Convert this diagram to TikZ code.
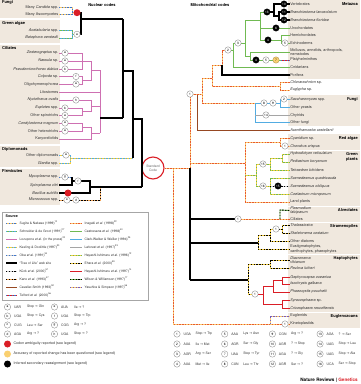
\documentclass[tikz,border=0pt]{standalone}
\usepackage{fontspec}
\setmainfont{TeX Gyre Heros}
\newfontfamily\arrfont{DejaVu Sans}
\newcommand{\toarr}{{\arrfont\char"2192}}
\usetikzlibrary{positioning}

\definecolor{beige}{RGB}{240,232,222}
\definecolor{pinkc}{RGB}{206,112,178}
\definecolor{redc}{RGB}{218,30,38}
\definecolor{ydot}{RGB}{250,208,112}
\definecolor{ornb}{RGB}{250,202,110}
\definecolor{ornd}{RGB}{232,88,48}
\definecolor{grnc}{RGB}{112,186,82}
\definecolor{bluc}{RGB}{82,172,226}
\definecolor{blud}{RGB}{62,118,204}
\definecolor{gryc}{RGB}{165,165,165}
\definecolor{brnc}{RGB}{150,72,34}
\definecolor{ylwc}{RGB}{244,206,62}
\definecolor{purc}{RGB}{118,92,186}

\tikzset{
  br/.style={line width=0.9pt},
  duo/.style 2 args={br, draw=#1, postaction={draw=#2, dash pattern=on 1.4pt off 1.4pt}},
  sugita/.style={duo={ornb}{blud}},
  schneider/.style={duo={grnc}{bluc}},
  lozupone/.style={br, draw=pinkc},
  keeling/.style={duo={ylwc}{bluc}},
  oba/.style={duo={gryc!60}{blud}},
  tol/.style={line width=1.1pt, draw=black},
  kuck/.style={duo={gryc!50}{black}},
  kano/.style={duo={ornb!70!ornd}{black}},
  cavsmith/.style={br, draw=brnc},
  telford/.style={duo={redc}{blud}},
  inagaki/.style={duo={ornb}{ornd}},
  castresana/.style={br, draw=grnc},
  clarkw/.style={br, draw=bluc},
  laforest/.style={br, draw=gryc},
  hayashia/.style={duo={ylwc}{grnc}},
  ehara/.style={duo={ylwc}{black}},
  hayashib/.style={br, draw=redc},
  wilson/.style={duo={grnc}{black}},
  yasuhira/.style={duo={ornb}{purc}},
  lbl/.style={font=\fontsize{3.8}{4.3}\selectfont, text=black!80, inner sep=0.6pt},
  lbr/.style={lbl, anchor=west},
  lbn/.style={lbl, anchor=east},
  grp/.style={font=\fontsize{4}{4.6}\selectfont\bfseries, inner sep=0.5pt},
  lg/.style={font=\fontsize{3.3}{3.8}\selectfont, text=black!80, inner sep=0.4pt, anchor=west},
  cod/.style={circle, draw=black!45, fill=white, line width=0.35pt, inner sep=0pt,
    minimum size=6.4pt, font=\fontsize{3.2}{3.2}\selectfont},
  codk/.style={cod, draw=black, fill=black, text=white},
  cody/.style={cod, draw=ydot!70!black, fill=ydot},
  bigdot/.style={circle, inner sep=0pt, minimum size=7pt, fill=#1}
}

\begin{document}
\begin{tikzpicture}[x=1pt,y=-1pt]
\useasboundingbox (0,0) rectangle (360,384);

% group panels
\fill[beige] (0,0) rectangle (60,17.5);
\fill[beige] (0,19.5) rectangle (60,43);
\fill[beige] (0,45) rectangle (60,144);
\fill[beige] (0,146) rectangle (60,166.5);
\fill[beige] (0,168.5) rectangle (60,205);
\fill[beige] (288,0) rectangle (360,78.5);
\fill[beige] (288,95) rectangle (360,126);
\fill[beige] (288,134) rectangle (360,149.5);
\fill[beige] (288,150.5) rectangle (360,206);
\fill[beige] (288,207) rectangle (360,222);
\fill[beige] (288,223) rectangle (360,254);
\fill[beige] (288,255) rectangle (360,312);
\fill[beige] (288,313) rectangle (360,328);

\node[grp] (hnuc) at (102,5) {Nuclear codes};
\node[grp] (hmit) at (210,5) {Mitochondrial codes};

% nuclear taxa
\node[grp, anchor=west] (nfun) at (1.5,2.8) {Fungi};
\node[lbn] (cand) at (59,7.6) {Many \textit{Candida} spp.};
\node[lbn] (asco) at (59,14.8) {Many Ascomycetes};
\node[grp, anchor=west] (ngre) at (1.5,23.5) {Green algae};
\node[lbn] (acet) at (59,30.5) {\textit{Acetabularia} spp.};
\node[lbn] (bato) at (59,38) {\textit{Batophora oerstedii}};
\node[grp, anchor=west] (ncil) at (1.5,48.5) {Ciliates};
\node[lbn] (zost) at (59,53) {\textit{Zosterograptus} sp.};
\node[lbn] (nass) at (59,61) {\textit{Nassula} sp.};
\node[lbn] (pseu) at (59,69) {\textit{Pseudomicrothorax dubius}};
\node[lbn] (colp) at (59,76.5) {\textit{Colpoda} sp.};
\node[lbn] (olig) at (59,84) {Oligohymenophorea};
\node[lbn] (lito) at (59,92) {Litostomes};
\node[lbn] (nyct) at (59,100) {\textit{Nyctotherus ovalis}};
\node[lbn] (eupl) at (59,108) {\textit{Euplotes} spp.};
\node[lbn] (ospi) at (59,115.5) {Other spirotrichs};
\node[lbn] (cond) at (59,123) {\textit{Condylostoma magnum}};
\node[lbn] (ohet) at (59,131) {Other heterotrichs};
\node[lbn] (kary) at (59,139) {Karyorelictids};
\node[grp, anchor=west] (ndip) at (1.5,149) {Diplomonads};
\node[lbn] (odip) at (59,155) {Other diplomonads};
\node[lbn] (giar) at (59,163) {\textit{Giardia} spp.};
\node[grp, anchor=west] (nfir) at (1.5,171) {Firmicutes};
\node[lbn] (myco) at (59,177) {\textit{Mycoplasma} spp.};
\node[lbn] (spir) at (59,185) {\textit{Spiroplasma citri}};
\node[lbn] (baci) at (59,193) {\textit{Bacillus subtilis}};
\node[lbn] (micr) at (59,200) {\textit{Micrococcus} spp.};

\node[circle, draw=redc, line width=1.1pt, minimum size=22pt, inner sep=0pt, align=center,
  font=\fontsize{3.3}{3.9}\selectfont, text=black!60] (std) at (153,168) {Standard\\Code};

% nuclear tree
\draw[sugita] (cand.east) -- (72,7.6) -- (72,14.8) -- (asco.east);
\draw[sugita] (72,12.7) -- (77,12.7);
\draw[schneider] (acet.east) -- (72,30.5) -- (72,38) -- (bato.east);
\draw[schneider] (72,34.3) -- (77,34.3);
\draw[tol] (77,12.7) -- (81,12.7) -- (81,34.3) -- (77,34.3);
\draw[tol] (81,19) -- (123,19);
\draw[lozupone] (zost.east) -- (82,53) -- (82,69) -- (pseu.east);
\draw[lozupone] (nass.east) -- (91,61) -- (91,80) -- (82,80);
\draw[lozupone] (colp.east) -- (82,76.5) -- (82,84) -- (olig.east);
\draw[lozupone] (91,70) -- (100,70);
\draw[lozupone] (eupl.east) -- (82,108) -- (82,115.5) -- (ospi.east);
\draw[lozupone] (82,111.8) -- (91,111.8) -- (91,100) -- (nyct.east);
\draw[lozupone] (91,106) -- (100,106);
\draw[lozupone] (cond.east) -- (82,123) -- (82,131) -- (ohet.east);
\draw[lozupone] (82,127) -- (91,127) -- (91,139) -- (kary.east);
\draw[lozupone] (91,133) -- (100,133);
\draw[lozupone] (lito.east) -- (100,92);
\draw[lozupone] (100,70) -- (100,133);
\draw[tol] (100,118) -- (123,118);
\draw[tol] (123,19) -- (123,118);
\draw[tol] (123,71) -- (133,71) -- (133,158);
\draw[tol] (133,119) -- (142,119) -- (142,187);
\draw[tol] (142,168) -- (std.west);
\draw[keeling] (odip.east) -- (70,155) -- (70,163) -- (giar.east);
\draw[keeling] (70,158) -- (133,158);
\draw[oba] (myco.east) -- (72,177);
\draw[tol] (72,177) -- (72,185) -- (spir.east);
\draw[tol] (72,181) -- (90,181) -- (90,193) -- (baci.east);
\draw[tol] (90,187) -- (142,187);
\draw[kano] (micr.east) -- (100,200) -- (100,187);

\node[bigdot=redc] (rfun) at (77,12.7) {};
\node[cod] (cga) at (77,34.3) {a};
\node[cod] (czos) at (65,53) {a};
\node[cod] (cnas) at (65,61) {a};
\node[cod] (cpse) at (65,69) {b};
\node[cod] (ccol) at (76,76.5) {f};
\node[cod] (colg) at (76,84) {a};
\node[cod] (cnyc) at (76,100) {h};
\node[cod] (ceup) at (65,108) {b};
\node[cod] (cosp) at (65,115.5) {a};
\node[cod] (ccon) at (65,123) {a};
\node[cod] (cohe) at (65,131) {a};
\node[cod] (cdip) at (66,155) {a};
\node[cod] (cmyc) at (65,177) {g};
\node[cod] (cfir) at (78,181) {f};
\node[bigdot=redc] (rbac) at (68,193) {};
\node[cod] (cmie) at (67,200) {e};
\node[cod] (cmid) at (76,200) {d};

% mitochondrial taxa
\node[lbr] (vert) at (289.5,4) {Vertebrates};
\node[lbr] (blan) at (289.5,12) {\textit{Branchiostoma lanceolatum}};
\node[lbr] (bflo) at (289.5,20) {\textit{Branchiostoma floridae}};
\node[lbr] (uroc) at (289.5,28) {Urochordates};
\node[lbr] (hemi) at (289.5,35) {Hemichordates};
\node[lbr] (echi) at (289.5,43) {Echinoderms};
\node[lbr, align=left] (moll) at (289.5,52) {Molluscs, annelids, arthropods,\\nematodes};
\node[lbr] (plat) at (289.5,60) {Platyhelminthes};
\node[lbr] (cnid) at (289.5,67) {Cnidarians};
\node[lbr] (pori) at (289.5,75) {Porifera};
\node[lbr] (chlo) at (289.5,82) {\textit{Chlorarachnion} sp.};
\node[lbr] (eugy) at (289.5,90) {\textit{Euglypha} sp.};
\node[lbr] (sacc) at (289.5,99) {\textit{Saccharomyces} spp.};
\node[lbr] (oyea) at (289.5,107) {Other yeasts};
\node[lbr] (chyt) at (289.5,115) {Chytrids};
\node[lbr] (ofun) at (289.5,122) {Other fungi};
\node[lbr] (acan) at (289.5,130) {\textit{Acanthamoeba castellanii}};
\node[lbr] (cyan) at (289.5,138) {\textit{Cyanidium} sp.};
\node[lbr] (chon) at (289.5,146) {\textit{Chondrus crispus}};
\node[lbr] (hydr) at (289.5,154) {\textit{Hydrodictyon reticulatum}};
\node[lbr] (pedi) at (289.5,162) {\textit{Pediastrum boryanum}};
\node[lbr] (tetr) at (289.5,170) {\textit{Tetraedron bitridens}};
\node[lbr] (squa) at (289.5,178) {\textit{Scenedesmus quadricauda}};
\node[lbr] (sobl) at (289.5,186) {\textit{Scenedesmus obliquus}};
\node[lbr] (coel) at (289.5,194) {\textit{Coelastrum microporum}};
\node[lbr] (land) at (289.5,202) {Land plants};
\node[lbr, align=left] (plas) at (289.5,210.5) {\textit{Plasmodium}\\\textit{falciparum}};
\node[lbr] (cili) at (289.5,219) {Ciliates};
\node[lbr] (thal) at (289.5,225) {\textit{Thalassiosira}};
\node[lbr] (skel) at (289.5,233) {\textit{Skeletonema costatum}};
\node[lbr] (odia) at (289.5,241) {Other diatoms};
\node[lbr, align=left] (eust) at (289.5,249) {Eustigmatophytes,\\xanthophytes, phaeophytes};
\node[lbr, align=left] (diac) at (289.5,260) {\textit{Diacronema}\\\textit{vlkianum}};
\node[lbr] (pavl) at (289.5,268) {\textit{Pavlova lutheri}};
\node[lbr] (geph) at (289.5,277) {\textit{Gephyrocapsa oceanica}};
\node[lbr] (isoc) at (289.5,284) {\textit{Isochrysis galbana}};
\node[lbr] (phae) at (289.5,292) {\textit{Phaeocystis pouchetii}};
\node[lbr] (syra) at (289.5,300) {\textit{Syracosphaera} sp.};
\node[lbr] (cric) at (289.5,308) {\textit{Cricosphaera roscoffensis}};
\node[lbr] (eugl) at (289.5,316) {Euglenids};
\node[lbr] (kine) at (289.5,324) {Kinetoplastids};

\node[grp, anchor=east] (gmet) at (358.5,4) {Metazoa};
\node[grp, anchor=east] (gfun) at (358.5,99) {Fungi};
\node[grp, anchor=east] (gred) at (358.5,138) {Red algae};
\node[grp, anchor=east, align=right] (ggre) at (358.5,157) {Green\\plants};
\node[grp, anchor=east] (galv) at (358.5,210) {Alveolates};
\node[grp, anchor=east] (gstr) at (358.5,226) {Stramenopiles};
\node[grp, anchor=east] (ghap) at (358.5,258) {Haptophytes};
\node[grp, anchor=east] (geug) at (358.5,316) {Euglenozoans};

% mitochondrial tree
\draw[inagaki] (std.east) -- (190,168);
\draw[inagaki] (173,168) -- (173,324) -- (kine.west);
\draw[yasuhira] (270,324) -- (270,316) -- (eugl.west);
\draw[tol] (190,168) -- (190,280);
\draw[cavsmith] (190,94) -- (197,94) -- (197,130) -- (acan.west);
\draw[inagaki] (190,168) -- (190,94) -- (202,94);
\draw[inagaki] (202,78) -- (202,103) -- (255,103);
\draw[inagaki] (202,78) -- (212,78);
\draw[inagaki] (212,65) -- (212,86) -- (280,86);
\draw[inagaki] (chlo.west) -- (280,82) -- (280,90) -- (eugy.west);
\draw[inagaki] (212,65) -- (222,65) -- (222,50) -- (229,50);
\draw[tol] (222,65) -- (222,75) -- (pori.west);
\draw[castresana] (229,50) -- (233,50);
\draw[castresana] (233,43) -- (233,67) -- (cnid.west);
\draw[castresana] (233,43) -- (245,43);
\draw[castresana] (245,20) -- (245,56) -- (250,56);
\draw[castresana] (245,20) -- (260,20);
\draw[castresana] (260,12) -- (260,40) -- (281,40);
\draw[castresana] (260,12) -- (267,12);
\draw[tol] (267,12) -- (274,12);
\draw[tol] (vert.west) -- (274,4) -- (274,16) -- (279,16);
\draw[tol] (blan.west) -- (279,12) -- (279,20) -- (bflo.west);
\draw[castresana] (260,28) -- (uroc.west);
\draw[castresana] (hemi.west) -- (281,35) -- (281,43) -- (echi.west);
\draw[castresana] (moll.west) -- (250,52) -- (250,60) -- (281,60);
\draw[telford] (281,60) -- (plat.west);
\draw[clarkw] (255,103) -- (280,103);
\draw[clarkw] (sacc.west) -- (280,99) -- (280,107) -- (oyea.west);
\draw[clarkw] (255,103) -- (255,122) -- (ofun.west);
\draw[laforest] (255,115) -- (chyt.west);
\draw[inagaki] (190,163) -- (245,163);
\draw[inagaki] (245,142) -- (245,202) -- (land.west);
\draw[inagaki] (245,142) -- (280,142);
\draw[inagaki] (cyan.west) -- (280,138) -- (280,146) -- (chon.west);
\draw[hayashia] (245,175) -- (256,175);
\draw[hayashia] (256,164) -- (256,186) -- (270,186);
\draw[hayashia] (256,164) -- (270,164);
\draw[hayashia] (270,158) -- (270,170) -- (tetr.west);
\draw[hayashia] (270,158) -- (282,158);
\draw[hayashia] (hydr.west) -- (282,154) -- (282,162) -- (pedi.west);
\draw[hayashia] (squa.west) -- (270,178) -- (270,194) -- (coel.west);
\draw[kuck] (270,186) -- (sobl.west);
\draw[tol] (190,219) -- (238,219);
\draw[inagaki] (238,219) -- (cili.west);
\draw[wilson] (280,219) -- (280,210) -- (plas.west);
\draw[tol] (190,243) -- (258,243);
\draw[ehara] (258,235) -- (258,249) -- (eust.west);
\draw[ehara] (258,235) -- (270,235);
\draw[ehara] (270,229) -- (270,241) -- (odia.west);
\draw[ehara] (270,229) -- (282,229);
\draw[ehara] (thal.west) -- (282,225) -- (282,233) -- (skel.west);
\draw[tol] (190,280) -- (248,280);
\draw[ehara] (248,264) -- (248,294) -- (255,294);
\draw[ehara] (248,264) -- (270,264);
\draw[ehara] (diac.west) -- (270,260) -- (270,268) -- (pavl.west);
\draw[hayashib] (255,294) -- (263,294);
\draw[hayashib] (263,286) -- (263,304) -- (282,304);
\draw[hayashib] (263,286) -- (273,286);
\draw[hayashib] (273,280.5) -- (273,292) -- (phae.west);
\draw[hayashib] (273,280.5) -- (282,280.5);
\draw[hayashib] (geph.west) -- (282,277) -- (282,284) -- (isoc.west);
\draw[hayashib] (syra.west) -- (282,300) -- (282,308) -- (cric.west);

\node[cod] (m1a) at (190,94) {1};
\node[cod] (m2a) at (228,50) {2};
\node[cod] (m3) at (238,43) {3};
\node[codk] (m13) at (267,12) {13};
\node[codk] (m10) at (284,4) {10};
\node[codk] (m11) at (284,12) {11};
\node[codk] (m12) at (284,20) {12};
\node[codk] (m6) at (276,28) {6};
\node[codk] (m4a) at (268,40) {4};
\node[cod] (m5a) at (285,43) {5};
\node[codk] (m4b) at (256,60) {4};
\node[cod] (m5b) at (266,60) {5};
\node[cody] (m7) at (276,60) {7};
\node[cod] (m8) at (264,103) {8};
\node[cod] (m9) at (273,103) {9};
\node[cod] (m2b) at (284,99) {2};
\node[cod] (m14) at (266,115) {14};
\node[cod] (m1b) at (285,146) {1};
\node[cod] (m15a) at (263,164) {15};
\node[cod] (m16) at (263,186) {16};
\node[codk] (m15b) at (278,186) {15};
\node[cod] (m1c) at (238,219) {1};
\node[cod] (m1d) at (276,229) {1};
\node[cod] (m1e) at (255,294) {1};
\node[cod] (m1f) at (285,324) {1};

% source legend
\draw[black!35, line width=0.5pt] (2,212) rectangle (148,300);
\node[grp, anchor=west, font=\fontsize{3.6}{4}\selectfont\bfseries] (src) at (5,216.5) {Source};
\foreach \sty/\txt [count=\i from 0] in {
  sugita/{Sugita \& Nakase (1999)\textsuperscript{10}},
  schneider/{Schneider \& de Groot (1991)\textsuperscript{27}},
  lozupone/{Lozupone \textit{et al.} (in the press)\textsuperscript{20}},
  keeling/{Keeling \& Doolittle (1997)\textsuperscript{30}},
  oba/{Oba \textit{et al.} (1991)\textsuperscript{34}},
  tol/{``Tree of Life'' web site},
  kuck/{K\"uck \textit{et al.} (2000)\textsuperscript{51}},
  kano/{Kano \textit{et al.} (1993)\textsuperscript{47}},
  cavsmith/{Cavalier-Smith (1993)\textsuperscript{52}},
  telford/{Telford \textit{et al.} (2000)\textsuperscript{56}}}
{
  \draw[\sty] (6,223+8*\i) -- (17,223+8*\i);
  \node[lg] (srcl\i) at (19,223+8*\i) {\txt};
}
\foreach \sty/\txt [count=\i from 0] in {
  inagaki/{Inagaki \textit{et al.} (1998)\textsuperscript{22}},
  castresana/{Castresana \textit{et al.} (1998)\textsuperscript{40}},
  clarkw/{Clark-Walker \& Weiller (1994)\textsuperscript{25}},
  laforest/{Laforest \textit{et al.} (1997)\textsuperscript{33}},
  hayashia/{Hayashi-Ishimaru \textit{et al.} (1996)\textsuperscript{12}},
  ehara/{Ehara \textit{et al.} (2000)\textsuperscript{53}},
  hayashib/{Hayashi-Ishimaru \textit{et al.} (1997)\textsuperscript{14}},
  wilson/{Wilson \& Williamson (1997)\textsuperscript{17}},
  yasuhira/{Yasuhira \& Simpson (1997)\textsuperscript{58}}}
{
  \draw[\sty] (70,223+8*\i) -- (82,223+8*\i);
  \node[lg] (srcr\i) at (84,223+8*\i) {\txt};
}

% nuclear code changes
\foreach \ltr/\cdn/\chg/\xx/\yy in {
  a/UAR/{Stop \toarr\ Gln}/7.5/307, b/UGA/{Stop \toarr\ Cys}/7.5/316,
  c/CUG/{Leu \toarr\ Ser}/7.5/325, d/AGA/{Arg \toarr\ ?}/7.5/334,
  e/AUA/{Ile \toarr\ ?}/54.5/307, f/UGA/{Stop \toarr\ Trp}/54.5/316,
  g/CGG/{Arg \toarr\ ?}/54.5/325, h/UGA/{Stop \toarr\ ?}/54.5/334}
{
  \node[cod] (ncod\ltr) at (\xx,\yy) {\ltr};
  \node[lg, font=\fontsize{3.4}{3.8}\selectfont] (ncdn\ltr) at (\xx+6,\yy) {\cdn};
  \node[lg, font=\fontsize{3.4}{3.8}\selectfont] (nchg\ltr) at (\xx+19,\yy) {\chg};
}
\node[bigdot=redc] (kred) at (7.5,344) {};
\node[lg, font=\fontsize{3.6}{4}\selectfont] (tred) at (13,344) {Codon ambiguity reported (see legend)};
\node[bigdot=ydot] (kyel) at (7.5,354) {};
\node[lg, font=\fontsize{3.6}{4}\selectfont] (tyel) at (13,354) {Accuracy of reported change has been questioned (see legend)};
\node[bigdot=black] (kblk) at (7.5,364) {};
\node[lg, font=\fontsize{3.6}{4}\selectfont] (tblk) at (13,364) {Inferred secondary reassignment (see legend)};

% mitochondrial code changes
\foreach \nn/\cdn/\chg [count=\k from 0] in {
  1/UGA/{Stop \toarr\ Trp}, 2/AUA/{Ile \toarr\ Met}, 3/AGR/{Arg \toarr\ Ser}, 4/AUA/{Met \toarr\ Ile},
  5/AAA/{Lys \toarr\ Asn}, 6/AGR/{Ser \toarr\ Gly}, 7/UAA/{Stop \toarr\ Tyr}, 8/CUN/{Leu \toarr\ Thr},
  9/CGN/{Arg \toarr\ ?}, 10/AGR/{? \toarr\ Stop}, 11/AGA/{? \toarr\ Gly}, 12/AGR/{Ser \toarr\ ?},
  13/AGA/{? \toarr\ Ser}, 14/UAG/{Stop \toarr\ Leu}, 15/UAG/{Stop \toarr\ Ala}, 16/UCA/{Ser \toarr\ Stop}}
{
  \pgfmathtruncatemacro\col{div(\k,4)}
  \pgfmathtruncatemacro\row{mod(\k,4)}
  \node[cod] (mcod\nn) at (177+47.7*\col,334+10*\row) {\nn};
  \node[lg, font=\fontsize{3.4}{3.8}\selectfont] (mcdn\nn) at (183+47.7*\col,334+10*\row) {\cdn};
  \node[lg, font=\fontsize{3.4}{3.8}\selectfont] (mchg\nn) at (195+47.7*\col,334+10*\row) {\chg};
}

\node[anchor=east, font=\fontsize{4.6}{5}\selectfont\bfseries, inner sep=0.5pt] (nrg) at (358.5,380)
  {Nature Reviews | \textcolor{redc}{Genetics}};
\end{tikzpicture}
\end{document}
